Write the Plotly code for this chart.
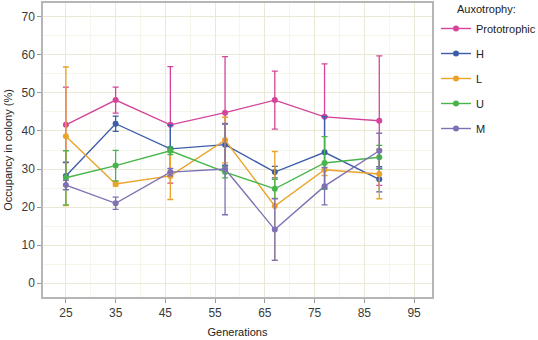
import plotly.graph_objects as go

generations = [25, 35, 46, 57, 67, 77, 88]
series_names = ["Prototrophic", "H", "L", "U", "M"]

prototrophic = [41.6, 48.1, 41.6, 44.8, 48.1, 43.7, 42.7]
prototrophic_err = [9.9, 3.4, 15.3, 14.7, 7.6, 13.9, 17.0]

h_vals = [28.2, 41.9, 35.3, 36.4, 29.2, 34.4, 27.3]
h_err = [3.6, 2.0, 6.2, 5.4, 1.5, 9.4, 3.3]

l_vals = [38.6, 26.1, 28.2, 37.6, 20.3, 29.8, 28.7]
l_err = [18.2, 0.6, 6.2, 6.0, 14.3, 1.5, 6.5]

u_vals = [27.7, 30.9, 34.8, 29.2, 24.8, 31.6, 33.1]
u_err = [7.1, 4.0, 1.0, 1.5, 2.5, 6.9, 3.1]

m_vals = [25.8, 21.0, 29.2, 30.0, 14.1, 25.5, 34.8]
m_err = [1.2, 1.6, 1.0, 12.0, 8.1, 4.9, 4.6]

colors = ["#D4449B", "#3C5DA8", "#E9A329", "#48B54A", "#7E71B3"]

x_ticks = [25, 35, 45, 55, 65, 75, 85, 95]
y_ticks = [0, 10, 20, 30, 40, 50, 60, 70]
legend_title = "Auxotrophy:"

values = [prototrophic, h_vals, l_vals, u_vals, m_vals]
errors = [prototrophic_err, h_err, l_err, u_err, m_err]

fig = go.Figure()
for name, vals, errs, col in zip(series_names, values, errors, colors):
    fig.add_trace(go.Scatter(
        x=generations, y=vals, name=name, mode="lines+markers",
        line=dict(color=col, width=1.4),
        marker=dict(color=col, size=6),
        error_y=dict(type="data", array=errs, visible=True, color=col,
                     thickness=1.3, width=3),
        legendgroup=name,
    ))

grid_major = "rgb(235,233,214)"
grid_minor = "rgb(246,245,236)"
font_color = "#3a3a3a"
text_color = "#222222"

fig.update_layout(
    width=538, height=340,
    margin=dict(l=43, r=106, t=1, b=43),
    paper_bgcolor="white", plot_bgcolor="white",
    font=dict(family="Liberation Sans, Arial, sans-serif", size=12, color=font_color),
    showlegend=True,
    legend=dict(
        xref="container", yref="container",
        x=436 / 538, y=1 - 14 / 340, xanchor="left", yanchor="top",
        font=dict(size=11, color=text_color),
        tracegroupgap=6, itemwidth=30,
        bgcolor="rgba(0,0,0,0)",
    ),
    annotations=[dict(
        text=legend_title, xref="paper", yref="paper",
        x=1.059, y=0.98, xanchor="left", yanchor="middle",
        showarrow=False, font=dict(size=11, color=text_color),
    )],
    xaxis=dict(
        range=[20.4, 98.6], tickvals=x_ticks, ticktext=[str(v) for v in x_ticks],
        showgrid=True, gridcolor=grid_major, gridwidth=1,
        minor=dict(tickvals=[20, 30, 40, 50, 60, 70, 80, 90], showgrid=True,
                   gridcolor=grid_minor, gridwidth=1, ticklen=0),
        ticks="outside", ticklen=4, tickcolor="#999",
        showline=True, linecolor="#b5b5b5", linewidth=1.5, mirror=True,
        zeroline=False,
        title=dict(text="Generations", font=dict(size=11, color=text_color), standoff=9),
        tickfont=dict(size=12, color=font_color),
    ),
    yaxis=dict(
        range=[-3.6, 73.6], tickvals=y_ticks, ticktext=[str(v) for v in y_ticks],
        showgrid=True, gridcolor=grid_major, gridwidth=1,
        minor=dict(tickvals=[5, 15, 25, 35, 45, 55, 65], showgrid=True,
                   gridcolor=grid_minor, gridwidth=1, ticklen=0),
        ticks="outside", ticklen=4, tickcolor="#999",
        showline=True, linecolor="#b5b5b5", linewidth=1.5, mirror=True,
        zeroline=False,
        title=dict(text="Occupancy in colony (%)", font=dict(size=11, color=text_color), standoff=7),
        tickfont=dict(size=12, color=font_color),
    ),
)

fig.write_html("out.html", config={"displayModeBar": False},
               post_script="document.body.style.margin='0';")
